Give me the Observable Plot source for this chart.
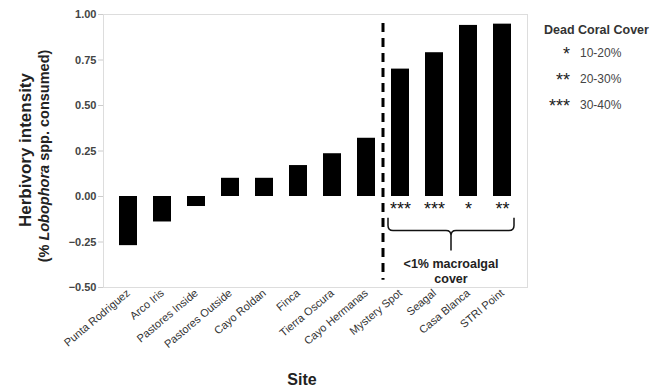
<!DOCTYPE html>
<html>
<head>
<meta charset="utf-8">
<script src="https://cdn.jsdelivr.net/npm/d3@7"></script>
<script src="https://cdn.jsdelivr.net/npm/@observablehq/plot@0.6"></script>
<style>
  body { margin: 0; background: #fff; }
  #chart { width: 650px; height: 388px; }
</style>
</head>
<body>
<div id="chart"></div>
<script>
const sites = ["Punta Rodriguez", "Arco Iris", "Pastores Inside", "Pastores Outside", "Cayo Roldan", "Finca", "Tierra Oscura", "Cayo Hermanas", "Mystery Spot", "Seagal", "Casa Blanca", "STRI Point"];
const herbivory = [-0.27, -0.14, -0.055, 0.10, 0.10, 0.17, 0.235, 0.32, 0.70, 0.79, 0.94, 0.947];
const deadCoralStars = ["", "", "", "", "", "", "", "", "***", "***", "*", "**"];
const yTicks = [-0.5, -0.25, 0, 0.25, 0.5, 0.75, 1];
const legendTitle = "Dead Coral Cover";
const legendStars = ["*", "**", "***"];
const legendLabels = ["10-20%", "20-30%", "30-40%"];
const braceSites = ["Mystery Spot", "STRI Point"];
const braceLabel = ["<1% macroalgal", "cover"];
const dividerAfter = "Cayo Hermanas";
const xTitle = "Site";
const yTitleLine1 = "Herbivory intensity";
const yTitleLine2 = ["(% ", "Lobophora", " spp. consumed)"];

const data = sites.map((s, i) => ({site: s, value: herbivory[i], stars: deadCoralStars[i]}));
const FONT = "'Liberation Sans', Arial, Helvetica, sans-serif";
const PAD = 0.46;

function annotations(index, scales, values, dims) {
  const x = scales.x, y = scales.y;
  const i0 = sites.indexOf(dividerAfter);
  const step = x(sites[1]) - x(sites[0]);
  const bw = typeof x.bandwidth === "function" ? x.bandwidth() : (x.bandwidth ?? step * (1 - PAD));
  const gap = step - bw;
  const g = d3.create("svg:g");
  // dashed divider
  const xd = x(sites[i0 + 1]) - gap / 2;
  g.append("line")
    .attr("x1", xd).attr("x2", xd)
    .attr("y1", y(0.95)).attr("y2", y(-0.46))
    .attr("stroke", "#000").attr("stroke-width", 3)
    .attr("stroke-dasharray", "9,6");
  // brace
  const x0 = x(braceSites[0]) - 3;
  const x1 = x(braceSites[1]) + bw + 3;
  const xc = (x0 + x1) / 2;
  const yt = y(-0.12), yh = y(-0.19), ytip = y(-0.30);
  const r = 5;
  const path = `M${x0},${yt} V${yh - r} Q${x0},${yh} ${x0 + r},${yh} H${xc - r} Q${xc},${yh} ${xc},${yh + r} V${ytip}` +
               ` M${xc},${yh + r} Q${xc},${yh} ${xc + r},${yh} H${x1 - r} Q${x1},${yh} ${x1},${yh - r} V${yt}`;
  g.append("path").attr("d", path).attr("fill", "none").attr("stroke", "#111").attr("stroke-width", 1.5);
  braceLabel.forEach((t, k) => {
    g.append("text")
      .attr("x", xc).attr("y", y(-0.37) + k * 15)
      .attr("text-anchor", "middle").attr("dy", "0.35em")
      .attr("font-family", FONT).attr("font-size", 12.5).attr("font-weight", "bold")
      .attr("fill", "#222").text(t);
  });
  return g.node();
}

const chart = Plot.plot({
  width: 650,
  height: 388,
  marginLeft: 103,
  marginRight: 123,
  marginTop: 14,
  marginBottom: 101,
  style: {fontFamily: FONT, background: "#fff"},
  x: {domain: sites, padding: PAD, label: null},
  y: {domain: [-0.5, 1], label: null},
  marks: [
    Plot.frame({stroke: "#ddd"}),
    Plot.barY(data, {x: "site", y: "value", fill: "#000"}),
    Plot.text(data, {x: "site", y: 0, text: "stars", dy: 13, fontSize: 18, fill: "#111", lineAnchor: "middle"}),
    Plot.axisY({ticks: yTicks, tickFormat: d3.format(".2f"), tickSize: 5, tickPadding: 2, stroke: "#ccc", fill: "#444", fontSize: 11, fontWeight: "bold", label: null}),
    Plot.axisX({tickSize: 0, tickPadding: 4, tickRotate: -40, fill: "#333", fontSize: 11, label: null}),
    annotations
  ]
});

const svg = d3.select(chart);
// axis titles
svg.append("text")
  .attr("x", 302).attr("y", 385)
  .attr("text-anchor", "middle")
  .attr("font-family", FONT).attr("font-size", 16).attr("font-weight", "bold")
  .attr("fill", "#222").text(xTitle);
svg.append("text")
  .attr("transform", "translate(31,150) rotate(-90)")
  .attr("text-anchor", "middle")
  .attr("font-family", FONT).attr("font-size", 17).attr("font-weight", "bold")
  .attr("fill", "#222").text(yTitleLine1);
const t2 = svg.append("text")
  .attr("transform", "translate(48.5,156) rotate(-90)")
  .attr("text-anchor", "middle")
  .attr("font-family", FONT).attr("font-size", 14.5).attr("font-weight", "bold")
  .attr("fill", "#222");
yTitleLine2.forEach((s, i) => t2.append("tspan").attr("font-style", i === 1 ? "italic" : null).text(s));
// legend
svg.append("text")
  .attr("x", 544).attr("y", 34)
  .attr("text-anchor", "start")
  .attr("font-family", FONT).attr("font-size", 12.5).attr("font-weight", "bold")
  .attr("fill", "#333").text(legendTitle);
legendStars.forEach((s, i) => {
  const cy = 53 + i * 26;
  svg.append("text")
    .attr("x", 570).attr("y", cy + 7)
    .attr("text-anchor", "end")
    .attr("font-family", FONT).attr("font-size", 18)
    .attr("fill", "#222").text(s);
  svg.append("text")
    .attr("x", 580).attr("y", cy).attr("dy", "0.35em")
    .attr("text-anchor", "start")
    .attr("font-family", FONT).attr("font-size", 12)
    .attr("fill", "#444").text(legendLabels[i]);
});

document.getElementById("chart").appendChild(chart);
</script>
</body>
</html>
